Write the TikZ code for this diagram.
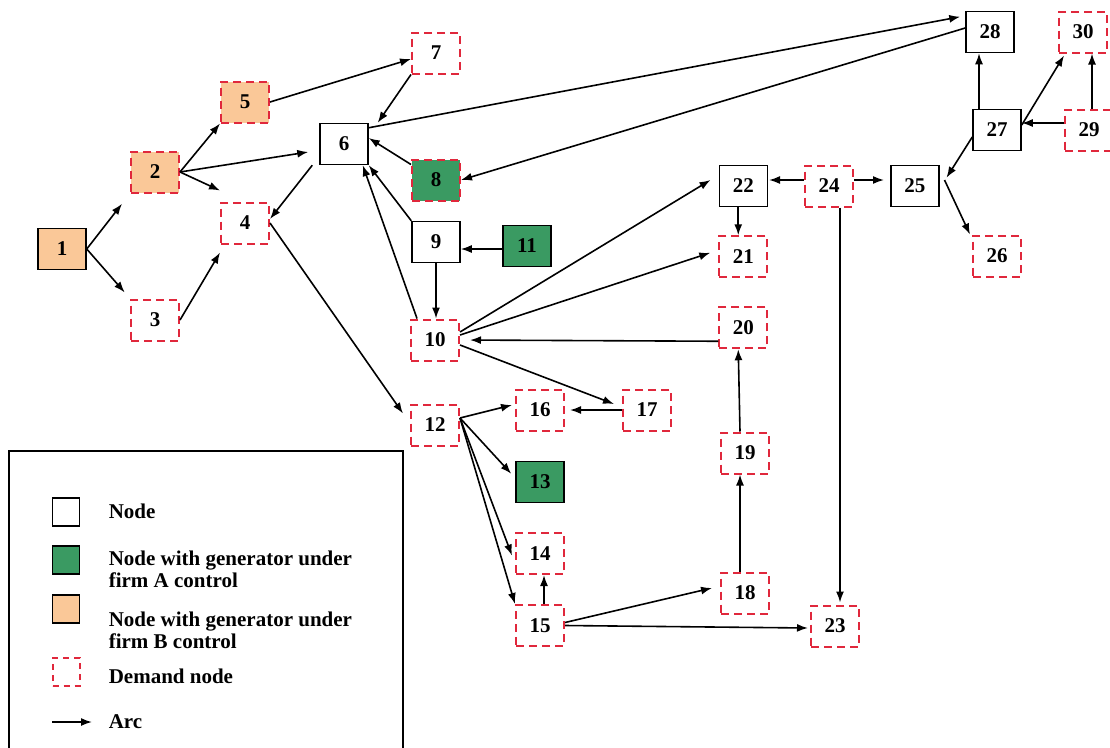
\documentclass[tikz,border=0pt]{standalone}
\usepackage{fontspec}
\setmainfont{Liberation Serif}
\usetikzlibrary{arrows.meta,positioning}

\definecolor{gena}{RGB}{58,154,98}
\definecolor{genb}{RGB}{250,200,152}
\definecolor{demred}{RGB}{224,40,60}

\begin{document}
\begin{tikzpicture}[
    x = 1pt, y = -1pt, % pixel-like units
    > = {Latex[length=11pt,width=8pt]}, % arrow head style
    font = \fontsize{21}{22}\selectfont\bfseries,
    line width = 1.6pt % line style
    ]

    \tikzset{
    bus/.style = {draw = black, line width = 1.5pt, fill = white,
      minimum width = 48pt, minimum height = 41pt, inner sep = 0pt},
    dem/.style = {bus, draw = demred, line width = 2pt,
      dash pattern = on 8pt off 5pt},
    link/.style = {->, line width = 1.6pt},
    legtxt/.style = {anchor = west, align = left, inner sep = 0pt}
    }

    \useasboundingbox (0,0) rectangle (1110,747);

    % nodes
    \node[bus,fill=genb] (v1) at (62,249) {1};
    \node[dem,fill=genb] (v2) at (155,172) {2};
    \node[dem] (v3) at (155,320) {3};
    \node[dem] (v4) at (245,223) {4};
    \node[dem,fill=genb] (v5) at (245,102) {5};
    \node[bus] (v6) at (344,144) {6};
    \node[dem] (v7) at (436,53) {7};
    \node[dem,fill=gena] (v8) at (436,180) {8};
    \node[bus] (v9) at (436,242) {9};
    \node[dem] (v10) at (435,340) {10};
    \node[bus,fill=gena] (v11) at (527,246) {11};
    \node[dem] (v12) at (435,425) {12};
    \node[dem] (v16) at (540,410) {16};
    \node[bus,fill=gena] (v13) [below=29pt of v16] {13};
    \node[dem] (v14) [below=29pt of v13] {14};
    \node[dem] (v15) [below=29pt of v14] {15};
    \node[dem] (v17) [right=57pt of v16] {17};
    \node[dem] (v24) at (829,186) {24};
    \node[bus] (v22) [left=36pt of v24] {22};
    \node[bus] (v25) [right=36pt of v24] {25};
    \node[dem] (v21) [below=28pt of v22] {21};
    \node[dem] (v20) [below=28pt of v21] {20};
    \node[dem] (v19) at (745,453) {19};
    \node[dem] (v18) at (745,593) {18};
    \node[dem] (v23) at (835,626) {23};
    \node[dem] (v26) at (997,256) {26};
    \node[bus] (v27) at (997,130) {27};
    \node[bus] (v28) at (990,32) {28};
    \node[dem] (v29) at (1089,130) {29};
    \node[dem] (v30) at (1083,32) {30};

    % arcs
    \path[link] (v1.east) edge[shorten >=13pt] (v2.south west)
      (v1.east) edge[shorten >=8pt] (v3.north west)
      (v3.east) edge ([yshift=-8pt]v4.south west)
      (v2.east) edge (v5.south west)
      (v2.east) edge ([xshift=-11pt,yshift=-8pt]v6.west)
      (v2.east) edge ([yshift=11pt]v4.north west)
      (v5.east) edge ([yshift=-6pt]v7.west)
      (v7.south west) edge ([xshift=9pt]v6.north east)
      ([yshift=-5pt]v6.north east) edge ([xshift=-5pt,yshift=-6pt]v28.north west)
      ([yshift=4pt]v28.west) edge (v8.east)
      ([yshift=-6pt]v8.north west) edge ([yshift=6pt]v6.east)
      (v9.north west) edge (v6.south east)
      ([xshift=7pt]v10.north west) edge ([xshift=-6pt]v6.south east)
      ([xshift=-7pt]v6.south west) edge ([yshift=4pt]v4.east)
      ([yshift=-3pt]v11.west) edge ([yshift=-3pt]v9.east |- v11.west)
      (v9.south) edge (v9.south |- v10.north)
      (v4.east) edge ([xshift=-7pt,yshift=-10pt]v12.north west)
      ([yshift=8pt]v10.east) edge ([xshift=-8pt,yshift=6pt]v22.west)
      ([yshift=5pt]v10.east) edge ([xshift=-8pt,yshift=4pt]v21.west)
      ([yshift=8pt]v20.south west) edge[shorten >=10pt] (v10.east)
      ([yshift=-5pt]v10.east) edge ([xshift=-8pt,yshift=6pt]v17.west)
      (v17.west) edge[shorten >=5pt] (v16.east)
      ([yshift=7pt]v12.east) edge ([xshift=-3pt,yshift=5pt]v16.west)
      ([yshift=7pt]v12.east) edge ([xshift=-4pt,yshift=8pt]v13.west)
      ([yshift=7pt]v12.east) edge ([xshift=-3pt,yshift=-2pt]v14.west)
      ([yshift=7pt]v12.east) edge (v15.north west)
      ([xshift=4pt]v15.north) edge ([xshift=4pt]v14.south)
      ([yshift=3pt]v15.east) edge ([xshift=-8pt,yshift=5pt]v18.west)
      (v15.east) edge ([xshift=-2pt,yshift=-2pt]v23.west)
      ([xshift=-5pt]v18.north) edge ([xshift=-5pt]v19.south)
      ([xshift=-5pt]v19.north) edge ([xshift=-5pt]v20.south)
      ([xshift=-5pt]v22.south) edge ([xshift=-5pt]v21.north)
      ([yshift=6pt]v24.west) edge[shorten >=1pt] ([yshift=6pt]v22.east)
      ([yshift=6pt]v24.east) edge[shorten >=6pt] ([yshift=6pt]v25.west)
      ([xshift=11pt]v24.south) edge[shorten >=2pt] ([xshift=5pt]v23.north)
      ([yshift=-7pt]v27.west) edge ([xshift=7pt,yshift=-13pt]v25.north east)
      ([xshift=5pt,yshift=6pt]v25.east) edge ([xshift=-2pt]v26.north west)
      ([xshift=-18pt]v27.north) edge ([xshift=-11pt]v28.south)
      ([yshift=7pt]v29.west) edge ([yshift=7pt]v27.east)
      ([xshift=3pt]v29.north) edge ([xshift=9pt]v30.south)
      ([yshift=5pt]v27.east) edge ([xshift=6pt,yshift=-2pt]v30.south west);

    % legend
    \draw[line width=1.2pt] (9,451) rectangle (403,775);
    \node[bus,minimum width=27pt,minimum height=28pt,line width=1.3pt] (kplain) at (66,512) {};
    \node[bus,fill=gena,minimum width=27pt,minimum height=28pt,line width=1.3pt] (kgena) at (66,560) {};
    \node[bus,fill=genb,minimum width=27pt,minimum height=28pt,line width=1.3pt] (kgenb) at (66,609) {};
    \node[dem,minimum width=27pt,minimum height=28pt,dash pattern=on 6pt off 5pt] (kdem) at (66,672) {};
    \coordinate (karcA) at (52,722);
    \coordinate (karcB) at (92,722);
    \draw[link] (karcA) -- (karcB);

    \node[legtxt] (tplain) at (108,511) {Node};
    \node[legtxt] (tgena) at (108,569) {Node with generator under\\firm A control};
    \node[legtxt] (tgenb) at (108,630) {Node with generator under\\firm B control};
    \node[legtxt] (tdem) at (108,676) {Demand node};
    \node[legtxt] (tarc) at (108,722) {Arc};
\end{tikzpicture}
\end{document}
